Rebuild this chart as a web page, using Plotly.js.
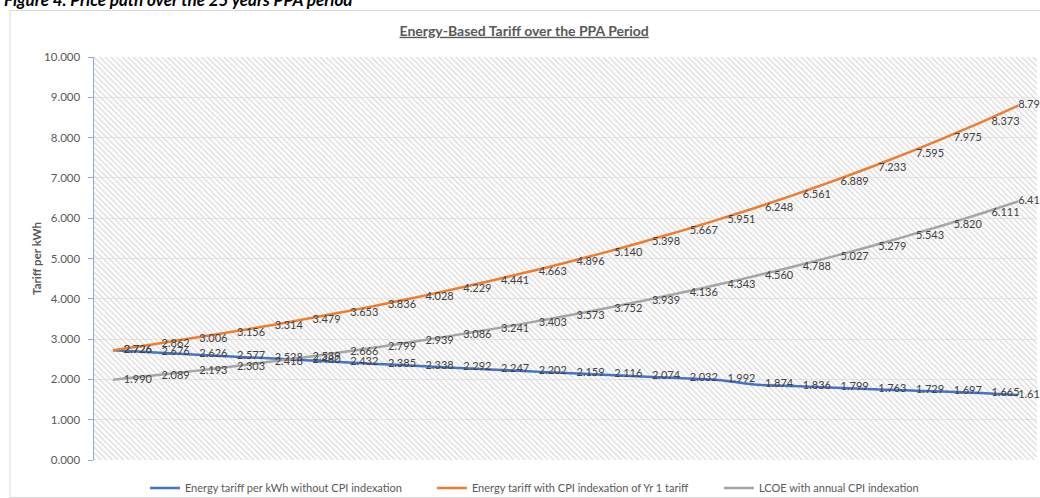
<!DOCTYPE html>
<html>
<head>
<meta charset="utf-8">
<script src="https://cdn.plot.ly/plotly-3.0.1.min.js"></script>
<style>
  html, body { margin: 0; padding: 0; background: #ffffff; }
  #chart { width: 1040px; height: 498px; }
</style>
</head>
<body>
<div id="chart"></div>
<script>
// Contract years of the PPA
const years = [1, 2, 3, 4, 5, 6, 7, 8, 9, 10, 11, 12, 13, 14, 15, 16, 17, 18, 19, 20, 21, 22, 23, 24, 25];

// Tariff per kWh without CPI indexation
const tariffNoCpi = [2.726, 2.676, 2.626, 2.577, 2.528, 2.480, 2.432, 2.385, 2.338, 2.292, 2.247, 2.202, 2.159,
                     2.116, 2.074, 2.032, 1.992, 1.874, 1.836, 1.799, 1.763, 1.729, 1.697, 1.665, 1.615];

// Tariff with CPI indexation of the year-1 tariff
const tariffCpi = [2.726, 2.862, 3.006, 3.156, 3.314, 3.479, 3.653, 3.836, 4.028, 4.229, 4.441, 4.663, 4.896,
                   5.140, 5.398, 5.667, 5.951, 6.248, 6.561, 6.889, 7.233, 7.595, 7.975, 8.373, 8.792];

// LCOE with annual CPI indexation
const lcoeCpi = [1.990, 2.089, 2.193, 2.303, 2.418, 2.539, 2.666, 2.799, 2.939, 3.086, 3.241, 3.403, 3.573,
                 3.752, 3.939, 4.136, 4.343, 4.560, 4.788, 5.027, 5.279, 5.543, 5.820, 6.111, 6.417];

const seriesNames = [
  'Energy tariff per kWh without CPI indexation',
  'Energy tariff with CPI indexation of Yr 1 tariff',
  'LCOE with annual CPI indexation'
];
const seriesColors = ['#4472C4', '#ED7D31', '#A5A5A5'];

const yTicks = [0, 1, 2, 3, 4, 5, 6, 7, 8, 9, 10];
const yMax = 10;

const FONT = 'Lato, "Open Sans", "Liberation Sans", sans-serif';
const LABEL_GREY = '#404040';
const AXIS_GREY = '#595959';

// hatched plot-area background spanning the full category range
const xLo = years[0] - 0.5;
const xHi = years[years.length - 1] + 0.5;
const hatch = {
  x: [xLo, xHi, xHi, xLo, xLo],
  y: [0, 0, yMax, yMax, 0],
  mode: 'none',
  fill: 'toself',
  fillcolor: 'rgba(255,255,255,0)',
  fillpattern: { shape: '\\', size: 4, solidity: 0.3, fgcolor: '#d8d8d8', bgcolor: 'rgba(255,255,255,0)' },
  hoverinfo: 'skip',
  showlegend: false
};

// value labels sit a little to the right of each point; the final one hugs its point
const GAP = '\u2002\u2002';
const labelFormats = years.map((_, i) => (i < years.length - 1 ? GAP : '') + '%{y:.3f}');

function lineTrace(values, i) {
  return {
    x: years,
    y: values,
    name: seriesNames[i],
    mode: 'lines+text',
    line: { color: seriesColors[i], width: 2.5, shape: 'spline', smoothing: 0.6 },
    texttemplate: labelFormats,
    textposition: 'middle right',
    textfont: { family: FONT, size: 11, color: LABEL_GREY },
    cliponaxis: false
  };
}

const data = [hatch, lineTrace(tariffNoCpi, 0), lineTrace(tariffCpi, 1), lineTrace(lcoeCpi, 2)];

const layout = {
  width: 1040,
  height: 498,
  margin: { l: 94, r: 3, t: 57, b: 38, autoexpand: false },
  paper_bgcolor: '#ffffff',
  plot_bgcolor: '#ffffff',
  font: { family: FONT, color: AXIS_GREY },
  title: {
    text: '<b><u>Energy-Based Tariff over the PPA Period</u></b>',
    font: { family: FONT, size: 14, color: AXIS_GREY },
    xref: 'container', x: 0.504, xanchor: 'center',
    yref: 'container', y: 0.938, yanchor: 'middle'
  },
  xaxis: {
    range: [xLo, xHi],
    showgrid: false, zeroline: false, showline: false,
    showticklabels: false, ticks: '', fixedrange: true
  },
  yaxis: {
    range: [0, yMax],
    tickvals: yTicks,
    tickformat: '.3f',
    tickfont: { family: FONT, size: 11.5, color: AXIS_GREY },
    ticklabelstandoff: 5,
    showgrid: true, gridcolor: '#e6e6e6', gridwidth: 1,
    zeroline: false,
    showline: true, linecolor: '#8eaadb', linewidth: 1.5,
    ticks: 'outside', ticklen: 5, tickcolor: '#8eaadb', tickwidth: 1,
    title: { text: '<b>Tariff per kWh</b>', font: { family: FONT, size: 11.5, color: AXIS_GREY }, standoff: 0 },
    fixedrange: true
  },
  showlegend: true,
  legend: {
    orientation: 'h',
    x: 0.054, xanchor: 'left',
    yref: 'container', y: 0.0201, yanchor: 'middle',
    entrywidth: 242, entrywidthmode: 'pixels',
    font: { family: FONT, size: 11, color: AXIS_GREY },
    bgcolor: 'rgba(0,0,0,0)'
  },
  shapes: [{
    type: 'rect', xref: 'paper', yref: 'paper',
    x0: -0.0891, x1: 1.0085, y0: -0.093, y1: 1.1154,
    line: { color: '#d9d9d9', width: 1 },
    fillcolor: 'rgba(0,0,0,0)', layer: 'below'
  }],
  annotations: [{
    text: '<b><i>Figure 4. Price path over the 25 years PPA period</i></b>',
    xref: 'paper', yref: 'paper',
    x: -0.0976, xanchor: 'left',
    y: 1.1415, yanchor: 'middle',
    showarrow: false,
    font: { family: FONT, size: 17, color: '#000000' }
  }]
};

Plotly.newPlot('chart', data, layout, { displayModeBar: false, staticPlot: true });
</script>
</body>
</html>
